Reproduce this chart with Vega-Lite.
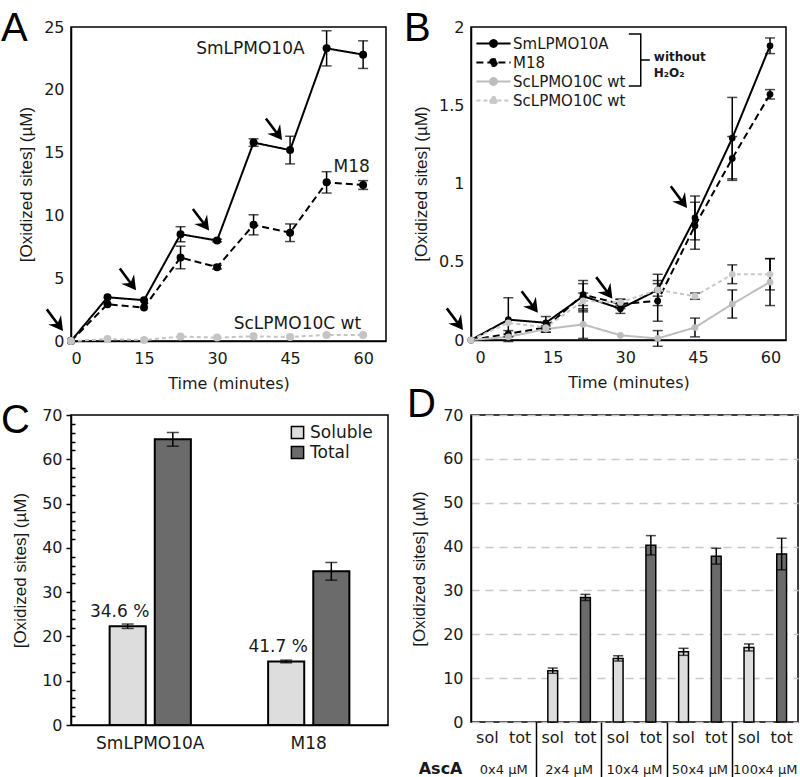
{
  "$schema": "https://vega.github.io/schema/vega-lite/v6.json",
  "padding": {"left": 0, "top": 8, "right": 0, "bottom": 0},
  "bounds": "flush",
  "columns": 2,
  "spacing": {"row": 74, "column": 83},
  "resolve": {"scale": {"color": "independent", "strokeDash": "independent"}, "legend": {"color": "independent", "strokeDash": "independent"}},
  "config": {
    "view": {"stroke": "#000", "strokeWidth": 1.5},
    "font": "DejaVu Sans",
    "axis": {"labelFont": "DejaVu Sans", "labelFontSize": 16, "labelColor": "#1a1a1a", "titleFont": "DejaVu Sans", "titleFontSize": 16, "titleFontWeight": "normal", "titleColor": "#1a1a1a", "domainColor": "#000", "domainWidth": 1.5, "ticks": false, "grid": false},
    "axisY": {"titleFont": "Liberation Sans", "titleFontSize": 17},
    "title": {"font": "Liberation Sans", "fontSize": 40, "fontWeight": "normal", "anchor": "start", "frame": "group", "baseline": "alphabetic", "color": "#000"},
    "legend": {"labelFont": "DejaVu Sans", "labelColor": "#1a1a1a", "padding": 0}
  },
  "concat": [
    {
      "width": 315, "height": 314,
      "title": {"text": "A", "dx": -70, "offset": -30},
      "data": {"values": [
        {"series": "SmLPMO10A", "t": 0, "v": 0, "err": 0},
        {"series": "SmLPMO10A", "t": 7.5, "v": 3.48, "err": 0},
        {"series": "SmLPMO10A", "t": 15, "v": 3.25, "err": 0},
        {"series": "SmLPMO10A", "t": 22.5, "v": 8.5, "err": 0.6},
        {"series": "SmLPMO10A", "t": 30, "v": 8.0, "err": 0.1},
        {"series": "SmLPMO10A", "t": 37.5, "v": 15.8, "err": 0.3},
        {"series": "SmLPMO10A", "t": 45, "v": 15.2, "err": 1.1},
        {"series": "SmLPMO10A", "t": 52.5, "v": 23.3, "err": 1.4},
        {"series": "SmLPMO10A", "t": 60, "v": 22.8, "err": 1.1},
        {"series": "M18", "t": 0, "v": 0, "err": 0},
        {"series": "M18", "t": 7.5, "v": 2.93, "err": 0},
        {"series": "M18", "t": 15, "v": 2.66, "err": 0},
        {"series": "M18", "t": 22.5, "v": 6.65, "err": 0.9},
        {"series": "M18", "t": 30, "v": 5.88, "err": 0.15},
        {"series": "M18", "t": 37.5, "v": 9.25, "err": 0.8},
        {"series": "M18", "t": 45, "v": 8.62, "err": 0.7},
        {"series": "M18", "t": 52.5, "v": 12.63, "err": 0.85},
        {"series": "M18", "t": 60, "v": 12.42, "err": 0.35},
        {"series": "ScLPMO10C wt", "t": 0, "v": 0, "err": 0},
        {"series": "ScLPMO10C wt", "t": 7.5, "v": 0.15, "err": 0},
        {"series": "ScLPMO10C wt", "t": 15, "v": 0.08, "err": 0},
        {"series": "ScLPMO10C wt", "t": 22.5, "v": 0.35, "err": 0},
        {"series": "ScLPMO10C wt", "t": 30, "v": 0.27, "err": 0},
        {"series": "ScLPMO10C wt", "t": 37.5, "v": 0.37, "err": 0},
        {"series": "ScLPMO10C wt", "t": 45, "v": 0.32, "err": 0},
        {"series": "ScLPMO10C wt", "t": 52.5, "v": 0.48, "err": 0},
        {"series": "ScLPMO10C wt", "t": 60, "v": 0.48, "err": 0}
      ]},
      "encoding": {
        "x": {"field": "t", "type": "quantitative", "scale": {"domain": [0, 64.7], "nice": false, "zero": false},
              "axis": {"values": [0, 15, 30, 45, 60], "title": "Time (minutes)", "labelPadding": 9, "titlePadding": 9}},
        "y": {"field": "v", "type": "quantitative", "scale": {"domain": [0, 25], "nice": false},
              "axis": {"values": [0, 5, 10, 15, 20, 25], "title": "[Oxidized sites] (µM)", "labelPadding": 7, "titlePadding": 8}},
        "color": {"field": "series", "type": "nominal", "scale": {"domain": ["SmLPMO10A", "M18", "ScLPMO10C wt"], "range": ["#000000", "#000000", "#c4c4c4"]}, "legend": null}
      },
      "layer": [
        {"mark": {"type": "line", "strokeWidth": 2},
         "encoding": {"strokeDash": {"field": "series", "type": "nominal", "scale": {"domain": ["SmLPMO10A", "M18", "ScLPMO10C wt"], "range": [[1, 0], [7, 4], [4, 3]]}, "legend": null}}},
        {"transform": [{"filter": "datum.err > 0"}],
         "mark": {"type": "errorbar", "ticks": {"size": 10}, "thickness": 1.5},
         "encoding": {"yError": {"field": "err"}}},
        {"mark": {"type": "point", "filled": true, "size": 64, "opacity": 1}},
        {"transform": [{"filter": "datum.series === 'SmLPMO10A' && indexof([0, 15, 30, 45], datum.t) >= 0"}],
         "mark": {"type": "point", "shape": "M-0.8,-1L-2.28,-1.64L-1.504,-1.722L-2.524,-3.082L-2.316,-3.238L-1.296,-1.878L-1,-2.6Z", "size": 400, "filled": true, "opacity": 1, "strokeWidth": 0, "clip": false},
         "encoding": {"color": {"value": "#000"}}},
        {"transform": [{"filter": "datum.series === 'SmLPMO10A' && datum.t === 52.5"}],
         "mark": {"type": "text", "align": "right", "baseline": "middle", "dx": -22, "dy": 1, "fontSize": 17, "font": "DejaVu Sans"},
         "encoding": {"text": {"field": "series"}, "color": {"value": "#1a1a1a"}}},
        {"transform": [{"filter": "datum.series === 'M18' && datum.t === 52.5"}],
         "mark": {"type": "text", "align": "left", "baseline": "middle", "dx": 7, "dy": -15, "fontSize": 17, "font": "DejaVu Sans"},
         "encoding": {"text": {"field": "series"}, "color": {"value": "#1a1a1a"}}},
        {"transform": [{"filter": "datum.series === 'ScLPMO10C wt' && datum.t === 60"}],
         "mark": {"type": "text", "align": "right", "baseline": "middle", "dx": -2, "dy": -11, "fontSize": 17, "font": "DejaVu Sans"},
         "encoding": {"text": {"field": "series"}, "color": {"value": "#1a1a1a"}}}
      ]
    },
    {
      "width": 315, "height": 313,
      "title": {"text": "B", "dx": -67, "offset": -30},
      "data": {"values": [
        {"series": "SmLPMO10A", "t": -1.86, "v": 0, "err": 0},
        {"series": "SmLPMO10A", "t": 5.85, "v": 0.13, "err": 0.14},
        {"series": "SmLPMO10A", "t": 13.6, "v": 0.11, "err": 0.04},
        {"series": "SmLPMO10A", "t": 21.3, "v": 0.28, "err": 0.1},
        {"series": "SmLPMO10A", "t": 29.0, "v": 0.2, "err": 0.03},
        {"series": "SmLPMO10A", "t": 36.7, "v": 0.32, "err": 0.1},
        {"series": "SmLPMO10A", "t": 44.4, "v": 0.78, "err": 0.14},
        {"series": "SmLPMO10A", "t": 52.1, "v": 1.29, "err": 0.26},
        {"series": "SmLPMO10A", "t": 59.9, "v": 1.88, "err": 0.05},
        {"series": "M18", "t": -1.86, "v": 0, "err": 0},
        {"series": "M18", "t": 5.85, "v": 0.04, "err": 0.02},
        {"series": "M18", "t": 13.6, "v": 0.08, "err": 0.03},
        {"series": "M18", "t": 21.3, "v": 0.29, "err": 0.07},
        {"series": "M18", "t": 29.0, "v": 0.23, "err": 0.03},
        {"series": "M18", "t": 36.7, "v": 0.25, "err": 0.13},
        {"series": "M18", "t": 44.4, "v": 0.73, "err": 0.15},
        {"series": "M18", "t": 52.1, "v": 1.16, "err": 0.14},
        {"series": "M18", "t": 59.9, "v": 1.57, "err": 0.03},
        {"series": "ScLPMO10C wt", "t": -1.86, "v": 0, "err": 0},
        {"series": "ScLPMO10C wt", "t": 5.85, "v": 0.02, "err": 0},
        {"series": "ScLPMO10C wt", "t": 13.6, "v": 0.07, "err": 0.02},
        {"series": "ScLPMO10C wt", "t": 21.3, "v": 0.1, "err": 0.09},
        {"series": "ScLPMO10C wt", "t": 29.0, "v": 0.03, "err": 0},
        {"series": "ScLPMO10C wt", "t": 36.7, "v": 0.01, "err": 0.05},
        {"series": "ScLPMO10C wt", "t": 44.4, "v": 0.08, "err": 0.06},
        {"series": "ScLPMO10C wt", "t": 52.1, "v": 0.23, "err": 0.09},
        {"series": "ScLPMO10C wt", "t": 59.9, "v": 0.37, "err": 0.15},
        {"series": "ScLPMO10C wt + H2O2", "t": -1.86, "v": 0, "err": 0},
        {"series": "ScLPMO10C wt + H2O2", "t": 5.85, "v": 0.11, "err": 0},
        {"series": "ScLPMO10C wt + H2O2", "t": 13.6, "v": 0.08, "err": 0},
        {"series": "ScLPMO10C wt + H2O2", "t": 21.3, "v": 0.25, "err": 0.05},
        {"series": "ScLPMO10C wt + H2O2", "t": 29.0, "v": 0.24, "err": 0.02},
        {"series": "ScLPMO10C wt + H2O2", "t": 36.7, "v": 0.32, "err": 0.04},
        {"series": "ScLPMO10C wt + H2O2", "t": 44.4, "v": 0.28, "err": 0.02},
        {"series": "ScLPMO10C wt + H2O2", "t": 52.1, "v": 0.42, "err": 0.06},
        {"series": "ScLPMO10C wt + H2O2", "t": 59.9, "v": 0.42, "err": 0.1}
      ]},
      "encoding": {
        "x": {"field": "t", "type": "quantitative", "scale": {"domain": [-1.86, 63.2], "nice": false, "zero": false},
              "axis": {"values": [0, 15, 30, 45, 60], "title": "Time (minutes)", "labelPadding": 9, "titlePadding": 9}},
        "y": {"field": "v", "type": "quantitative", "scale": {"domain": [0, 2], "nice": false},
              "axis": {"values": [0, 0.5, 1, 1.5, 2], "format": ".1~f", "title": "[Oxidized sites] (µM)", "labelPadding": 7, "titlePadding": 8}},
        "color": {"field": "series", "type": "nominal",
                  "scale": {"domain": ["SmLPMO10A", "M18", "ScLPMO10C wt", "ScLPMO10C wt + H2O2"], "range": ["#000000", "#000000", "#bdbdbd", "#c8c8c8"]},
                  "legend": {"title": null, "orient": "none", "legendX": 12, "legendY": 6, "symbolType": "M-1.8,0L1.8,0M0.36,0A0.36,0.36,0,1,1,-0.36,0A0.36,0.36,0,1,1,0.36,0", "symbolSize": 361, "symbolStrokeWidth": 2, "labelFontSize": 15, "labelLimit": 220, "rowPadding": 0, "labelOffset": 9, "labelExpr": "replace(datum.label, ' + H2O2', '')"}}
      },
      "layer": [
        {"mark": {"type": "line", "strokeWidth": 2},
         "encoding": {"strokeDash": {"field": "series", "type": "nominal",
                                     "scale": {"domain": ["SmLPMO10A", "M18", "ScLPMO10C wt", "ScLPMO10C wt + H2O2"], "range": [[1, 0], [7, 4], [1, 0], [4, 3]]},
                                     "legend": {"title": null, "orient": "none", "legendX": 12, "legendY": 6, "symbolType": "M-1.8,0L1.8,0M0.36,0A0.36,0.36,0,1,1,-0.36,0A0.36,0.36,0,1,1,0.36,0", "symbolSize": 361, "symbolStrokeWidth": 2, "labelFontSize": 15, "labelLimit": 220, "rowPadding": 0, "labelOffset": 9, "labelExpr": "replace(datum.label, ' + H2O2', '')"}}}},
        {"transform": [{"filter": "datum.err > 0"}],
         "mark": {"type": "errorbar", "ticks": {"size": 10}, "thickness": 1.5},
         "encoding": {"yError": {"field": "err"}, "color": {"value": "#000"}}},
        {"mark": {"type": "point", "filled": true, "size": 45, "opacity": 1}},
        {"transform": [{"filter": "datum.series === 'SmLPMO10A' && indexof([-1.86, 13.6, 29, 44.4], datum.t) >= 0"}],
         "mark": {"type": "point", "shape": "M-0.8,-1L-2.28,-1.64L-1.504,-1.722L-2.524,-3.082L-2.316,-3.238L-1.296,-1.878L-1,-2.6Z", "size": 400, "filled": true, "opacity": 1, "strokeWidth": 0, "clip": false},
         "encoding": {"color": {"value": "#000"}}},
        {"transform": [{"filter": "datum.series === 'SmLPMO10A' && datum.t === -1.86"}],
         "mark": {"type": "point", "shape": "M-0.46,-1L0,-1L0,1L-0.46,1M0,0L0.35,0", "size": 2704, "filled": false, "strokeWidth": 1.5, "opacity": 1, "clip": false},
         "encoding": {"x": {"datum": 33.2, "type": "quantitative"}, "y": {"datum": 1.789, "type": "quantitative"}, "color": {"value": "#000"}}},
        {"transform": [{"filter": "datum.series === 'SmLPMO10A' && datum.t === -1.86"}],
         "mark": {"type": "text", "align": "left", "baseline": "middle", "fontWeight": "bold", "fontSize": 12, "lineHeight": 16, "font": "DejaVu Sans", "text": ["without", "H₂O₂"], "clip": false},
         "encoding": {"x": {"datum": 35.9, "type": "quantitative"}, "y": {"datum": 1.808, "type": "quantitative"}, "color": {"value": "#1a1a1a"}}}
      ]
    },
    {
      "width": 317, "height": 310,
      "title": {"text": "C", "dx": -70, "offset": -34},
      "data": {"values": [
        {"enzyme": "SmLPMO10A", "fraction": "Soluble", "v": 22.3, "err": 0.5, "pct": "34.6 %"},
        {"enzyme": "SmLPMO10A", "fraction": "Total", "v": 64.5, "err": 1.55, "pct": ""},
        {"enzyme": "M18", "fraction": "Soluble", "v": 14.35, "err": 0.3, "pct": "41.7 %"},
        {"enzyme": "M18", "fraction": "Total", "v": 34.7, "err": 2.0, "pct": ""}
      ]},
      "encoding": {
        "x": {"field": "enzyme", "type": "nominal", "scale": {"domain": ["SmLPMO10A", "M18"], "paddingInner": 0, "paddingOuter": 0},
              "axis": {"title": null, "labelAngle": 0, "labelPadding": 10, "labelFontSize": 17}},
        "xOffset": {"field": "fraction", "type": "nominal", "scale": {"domain": ["Soluble", "Total"], "paddingInner": 0.2, "paddingOuter": 0.856}},
        "y": {"field": "v", "type": "quantitative", "scale": {"domain": [0, 70], "nice": false},
              "axis": {"values": [0, 2, 4, 6, 8, 10, 12, 14, 16, 18, 20, 22, 24, 26, 28, 30, 32, 34, 36, 38, 40, 42, 44, 46, 48, 50, 52, 54, 56, 58, 60, 62, 64, 66, 68, 70],
                       "labelExpr": "datum.value % 10 === 0 ? datum.label : ''", "labelOverlap": false,
                       "ticks": true, "tickColor": "#000", "tickWidth": 1.5,
                       "tickSize": {"condition": {"test": "datum.value % 10 === 0", "value": 5}, "value": -4},
                       "labelPadding": 4, "title": "[Oxidized sites] (µM)", "titlePadding": 12}}
      },
      "layer": [
        {"mark": {"type": "bar", "stroke": "#000", "strokeWidth": 2},
         "encoding": {"color": {"field": "fraction", "type": "nominal", "scale": {"domain": ["Soluble", "Total"], "range": ["#dddddd", "#6b6b6b"]},
                                "legend": {"title": null, "orient": "none", "legendX": 218, "legendY": 9, "symbolType": "square", "symbolSize": 150, "symbolStrokeColor": "#000", "symbolStrokeWidth": 1.5, "labelFontSize": 17, "rowPadding": 1, "labelOffset": 4}}}},
        {"mark": {"type": "errorbar", "ticks": {"size": 12}, "thickness": 1.5, "color": "#000"},
         "encoding": {"yError": {"field": "err"}}},
        {"transform": [{"filter": "datum.fraction === 'Soluble'"}],
         "mark": {"type": "text", "baseline": "middle", "dx": -8, "dy": -14, "fontSize": 17, "font": "DejaVu Sans", "color": "#1a1a1a"},
         "encoding": {"text": {"field": "pct"}}}
      ]
    },
    {
      "width": 327, "height": 307,
      "title": {"text": "D", "dx": -64, "offset": -18},
      "data": {"values": [
        {"asc": "0x4 µM", "frac": "sol", "key": "0x4 µM|sol", "v": null, "err": null},
        {"asc": "0x4 µM", "frac": "tot", "key": "0x4 µM|tot", "v": null, "err": null},
        {"asc": "2x4 µM", "frac": "sol", "key": "2x4 µM|sol", "v": 11.7, "err": 0.6},
        {"asc": "2x4 µM", "frac": "tot", "key": "2x4 µM|tot", "v": 28.4, "err": 0.7},
        {"asc": "10x4 µM", "frac": "sol", "key": "10x4 µM|sol", "v": 14.5, "err": 0.6},
        {"asc": "10x4 µM", "frac": "tot", "key": "10x4 µM|tot", "v": 40.3, "err": 2.2},
        {"asc": "50x4 µM", "frac": "sol", "key": "50x4 µM|sol", "v": 16.0, "err": 0.8},
        {"asc": "50x4 µM", "frac": "tot", "key": "50x4 µM|tot", "v": 37.8, "err": 1.8},
        {"asc": "100x4 µM", "frac": "sol", "key": "100x4 µM|sol", "v": 17.0, "err": 0.8},
        {"asc": "100x4 µM", "frac": "tot", "key": "100x4 µM|tot", "v": 38.3, "err": 3.6}
      ]},
      "layer": [
        {
          "encoding": {
            "x": {"field": "key", "type": "nominal",
                  "scale": {"domain": ["0x4 µM|sol", "0x4 µM|tot", "2x4 µM|sol", "2x4 µM|tot", "10x4 µM|sol", "10x4 µM|tot", "50x4 µM|sol", "50x4 µM|tot", "100x4 µM|sol", "100x4 µM|tot"], "paddingInner": 0.7, "paddingOuter": 0.35},
                  "axis": {"orient": "bottom", "title": null, "labelAngle": 0, "labelExpr": "split(datum.label, '|')[1]", "labelPadding": 7, "domain": false}},
            "y": {"field": "v", "type": "quantitative", "scale": {"domain": [0, 70], "nice": false},
                  "axis": {"values": [0, 10, 20, 30, 40, 50, 60, 70], "grid": true, "gridDash": [8, 6], "gridColor": "#c8c8c8", "gridWidth": 1.5, "labelPadding": 8, "title": "[Oxidized sites] (µM)", "titlePadding": 14}}
          },
          "layer": [
            {"mark": {"type": "bar", "stroke": "#000", "strokeWidth": 1.5},
             "encoding": {"color": {"field": "frac", "type": "nominal", "scale": {"domain": ["sol", "tot"], "range": ["#dddddd", "#6b6b6b"]}, "legend": null}}},
            {"transform": [{"filter": "isValid(datum.v)"}],
             "mark": {"type": "errorbar", "ticks": {"size": 10}, "thickness": 1.5, "color": "#000"},
             "encoding": {"yError": {"field": "err"}}}
          ]
        },
        {
          "mark": {"type": "point", "opacity": 0},
          "encoding": {
            "x": {"field": "asc", "type": "nominal",
                  "scale": {"type": "band", "domain": ["0x4 µM", "2x4 µM", "10x4 µM", "50x4 µM", "100x4 µM"], "paddingInner": 0, "paddingOuter": 0},
                  "axis": {"orient": "bottom", "domain": false, "ticks": true, "tickSize": 57, "tickWidth": 1.5,
                           "tickColor": {"condition": {"test": "datum.value === '0x4 µM'", "value": "transparent"}, "value": "#000"},
                           "bandPosition": 0, "labelPadding": -16, "labelFontSize": 13, "labelAngle": 0,
                           "title": "AscA", "titleFontWeight": "bold", "titleFontSize": 16, "titleX": -9, "titleY": 46, "titleAlign": "right", "titleBaseline": "middle"}}
          }
        }
      ],
      "resolve": {"scale": {"x": "independent"}, "axis": {"x": "independent"}}
    }
  ]
}
